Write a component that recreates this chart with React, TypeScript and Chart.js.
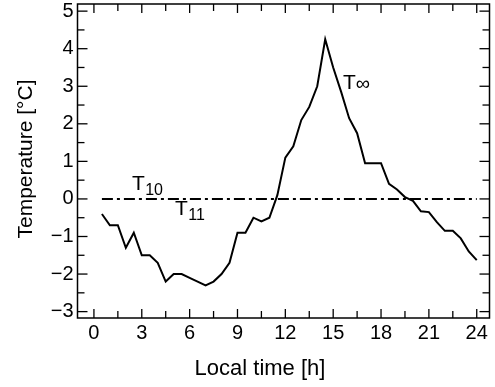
import React, { useEffect, useRef } from 'react';
import { Chart, registerables } from 'chart.js';

Chart.register(...registerables);

const hours = [
  0.5, 1, 1.5, 2, 2.5, 3, 3.5, 4, 4.5, 5, 5.5, 6, 6.5, 7, 7.5, 8, 8.5, 9, 9.5, 10, 10.5, 11, 11.5, 12,
  12.5, 13, 13.5, 14, 14.5, 15, 15.5, 16, 16.5, 17, 17.5, 18, 18.5, 19, 19.5, 20, 20.5, 21, 21.5, 22,
  22.5, 23, 23.5, 24,
];
const tInfinity = [
  -0.4, -0.7, -0.7, -1.3, -0.9, -1.5, -1.5, -1.7, -2.2, -2.0, -2.0, -2.1, -2.2, -2.3, -2.2, -2.0, -1.7,
  -0.9, -0.9, -0.5, -0.6, -0.5, 0.1, 1.1, 1.4, 2.1, 2.45, 3.0, 4.25, 3.5, 2.85, 2.15, 1.75, 0.95, 0.95,
  0.95, 0.4, 0.25, 0.05, -0.05, -0.33, -0.35, -0.62, -0.85, -0.85, -1.05, -1.4, -1.63,
];
const t10Hours = [0.5, 24];
const t10Values = [0, 0];

const xTickValues = [0, 3, 6, 9, 12, 15, 18, 21, 24];
const xMinorTickValues = [1.5, 4.5, 7.5, 10.5, 13.5, 16.5, 19.5, 22.5];
const yTickValues = [-3, -2, -1, 0, 1, 2, 3, 4, 5];
const yMinorTickValues = [-2.5, -1.5, -0.5, 0.5, 1.5, 2.5, 3.5, 4.5];

const xTitle = 'Local time [h]';
const yTitle = 'Temperature [°C]';

const curveLabels = [
  { main: 'T', sub: '10', x: 2.38, y: 0.24 },
  { main: 'T', sub: '11', x: 5.08, y: -0.43 },
  { main: 'T', sub: '∞', x: 15.61, y: 2.93 },
];

const FONT = '"Liberation Sans", Arial, Helvetica, sans-serif';

const framePlugin = {
  id: 'frameAndLabels',
  afterDatasetsDraw(chart: any) {
    const { ctx, chartArea, scales } = chart;
    const { left, right, top, bottom } = chartArea;
    const x = scales.x;
    const y = scales.y;
    ctx.save();
    ctx.strokeStyle = '#000';
    ctx.lineWidth = 1.5;
    ctx.strokeRect(left, top, right - left, bottom - top);
    const seg = (x1: number, y1: number, x2: number, y2: number) => {
      ctx.beginPath();
      ctx.moveTo(x1, y1);
      ctx.lineTo(x2, y2);
      ctx.stroke();
    };
    ctx.lineWidth = 1.3;
    const xt = [
      ...xTickValues.map((v) => [v, 9]),
      ...xMinorTickValues.map((v) => [v, 7]),
    ];
    xt.forEach(([v, len]) => {
      const px = x.getPixelForValue(v);
      seg(px, bottom, px, bottom - len);
      seg(px, top, px, top + len);
    });
    const yt = [
      ...yTickValues.map((v) => [v, 10]),
      ...yMinorTickValues.map((v) => [v, 7]),
    ];
    yt.forEach(([v, len]) => {
      const py = y.getPixelForValue(v);
      seg(left, py, left + len, py);
      seg(right, py, right - len, py);
    });

    // curve labels
    ctx.fillStyle = '#000';
    ctx.textBaseline = 'alphabetic';
    ctx.textAlign = 'left';
    curveLabels.forEach((l) => {
      const px = x.getPixelForValue(l.x);
      const py = y.getPixelForValue(l.y);
      ctx.font = `21px ${FONT}`;
      ctx.fillText(l.main, px, py);
      const w = ctx.measureText(l.main).width;
      if (l.sub === '∞') {
        ctx.font = `20px ${FONT}`;
        ctx.fillText(l.sub, px + w, py + 1);
      } else {
        ctx.font = `16px ${FONT}`;
        ctx.fillText(l.sub, px + w + 0.5, py + 5);
      }
    });
    ctx.restore();
  },
  afterDraw(chart: any) {
    const { ctx } = chart;
    ctx.save();
    ctx.fillStyle = '#000';
    ctx.textAlign = 'center';
    ctx.textBaseline = 'alphabetic';
    ctx.font = `22px ${FONT}`;
    ctx.fillText(xTitle, 260, 375);
    ctx.translate(32, 159);
    ctx.rotate(-Math.PI / 2);
    ctx.font = `21px ${FONT}`;
    ctx.fillText(yTitle, 0, 0);
    ctx.restore();
  },
};

const fmt = (v: number) => String(v).replace('-', '−');

export default function App() {
  const canvasRef = useRef<HTMLCanvasElement | null>(null);

  useEffect(() => {
    document.body.style.margin = '0';
    const canvas = canvasRef.current;
    if (!canvas) return;
    const chart = new Chart(canvas, {
      type: 'line',
      data: {
        datasets: [
          {
            label: 'T∞',
            data: hours.map((h, i) => ({ x: h, y: tInfinity[i] })),
            borderColor: '#000',
            borderWidth: 2,
            pointRadius: 0,
            tension: 0,
            fill: false,
          },
          {
            label: 'T10',
            data: t10Hours.map((h, i) => ({ x: h, y: t10Values[i] })),
            borderColor: '#000',
            borderWidth: 2,
            borderDash: [11, 4, 3, 4],
            pointRadius: 0,
            fill: false,
          },
        ],
      },
      options: {
        responsive: false,
        animation: false,
        events: [],
        layout: { padding: { top: 4, right: 5.5, left: 0, bottom: 0 } },
        plugins: {
          legend: { display: false },
          tooltip: { enabled: false },
          title: { display: false },
        },
        scales: {
          x: {
            type: 'linear',
            min: -1.03,
            max: 24.8,
            grid: { display: false, drawTicks: false },
            border: { display: false },
            afterFit: (scale: any) => {
              scale.height = 69;
              scale.paddingLeft = 0;
              scale.paddingRight = 0;
            },
            afterBuildTicks: (scale: any) => {
              scale.ticks = xTickValues.map((v) => ({ value: v }));
            },
            ticks: {
              color: '#000',
              padding: 3,
              maxRotation: 0,
              autoSkip: false,
              font: { family: FONT, size: 20 },
              callback: (v: any) => fmt(Number(v)),
            },
          },
          y: {
            type: 'linear',
            min: -3.17,
            max: 5.19,
            grid: { display: false, drawTicks: false },
            border: { display: false },
            afterFit: (scale: any) => {
              scale.width = 77.5;
              scale.paddingTop = 0;
              scale.paddingBottom = 0;
            },
            afterBuildTicks: (scale: any) => {
              scale.ticks = yTickValues.map((v) => ({ value: v }));
            },
            ticks: {
              color: '#000',
              padding: 4,
              autoSkip: false,
              font: { family: FONT, size: 20 },
              callback: (v: any) => fmt(Number(v)),
            },
          },
        },
      },
      plugins: [framePlugin],
    });
    return () => chart.destroy();
  }, []);

  return (
    <div style={{ position: 'absolute', left: 0, top: 0, width: 495, height: 387, background: '#fff' }}>
      <canvas ref={canvasRef} width={495} height={387} />
    </div>
  );
}
